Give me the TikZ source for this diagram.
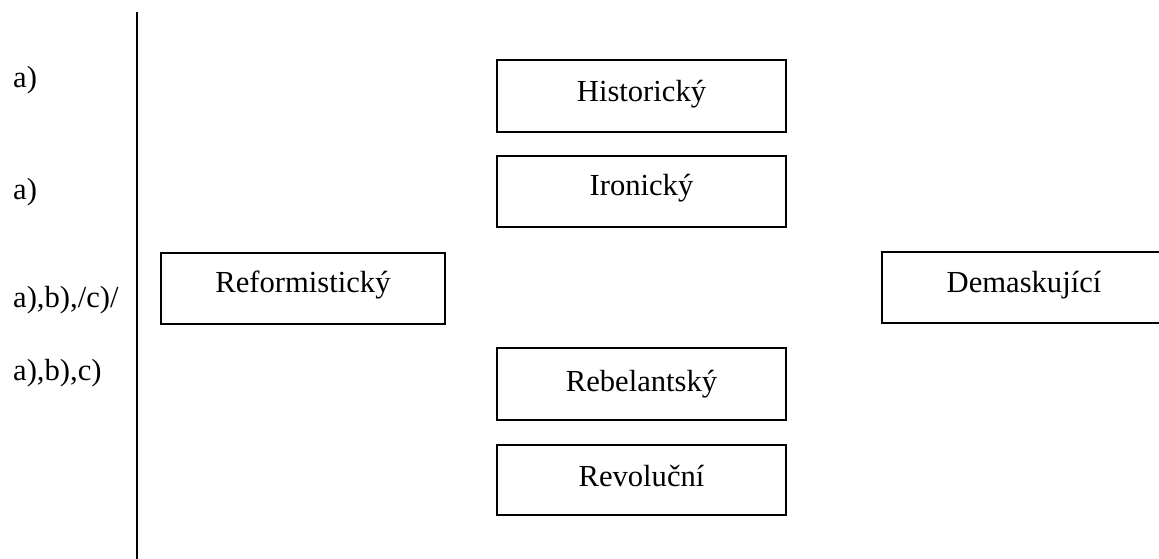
\documentclass[tikz,border=0pt]{standalone}
\usepackage{fontspec}
\setmainfont{Liberation Serif}
\begin{document}
\begin{tikzpicture}[x=1pt,y=-1pt,
  box/.style={draw=black,line width=2pt,rectangle,inner sep=0pt,
    font=\fontsize{30.6}{36}\selectfont,align=center},
  lab/.style={anchor=base west,inner sep=0pt,font=\fontsize{30.6}{36}\selectfont}]
\useasboundingbox (0,0) rectangle (1159,559);
\clip (0,0) rectangle (1159,559);
\fill[white] (0,0) rectangle (1159,559);
% divider
\coordinate (vt) at (137,12);
\coordinate (vb) at (137,559);
\draw[line width=2.6pt] (vt) -- (vb);
% left labels
\node[lab] (l1) at (13,88) {a)};
\node[lab] (l2) at (13,199) {a)};
\node[lab] (l3) at (13,307) {a),b),/c)/};
\node[lab] (l4) at (13,380) {a),b),c)};
% boxes
\node[box,minimum width=289pt,minimum height=72pt,text height=22pt,text depth=10pt] (hist) at (641.5,96) {Historický};
\node[box,minimum width=289pt,minimum height=71pt,text height=19pt,text depth=11pt] (iron) at (641.5,191.5) {Ironický};
\node[box,minimum width=284pt,minimum height=71pt,text height=20pt,text depth=12pt] (refo) at (303,288.5) {Reformistický};
\node[box,minimum width=284pt,minimum height=71pt,text height=21pt,text depth=11pt] (dema) at (1024,287.5) {Demaskující};
\node[box,minimum width=289pt,minimum height=72pt,text height=22pt,text depth=8pt] (rebe) at (641.5,384) {Rebelantský};
\node[box,minimum width=289pt,minimum height=70pt,text height=22pt,text depth=9pt] (revo) at (641.5,480) {Revoluční};
\end{tikzpicture}
\end{document}
